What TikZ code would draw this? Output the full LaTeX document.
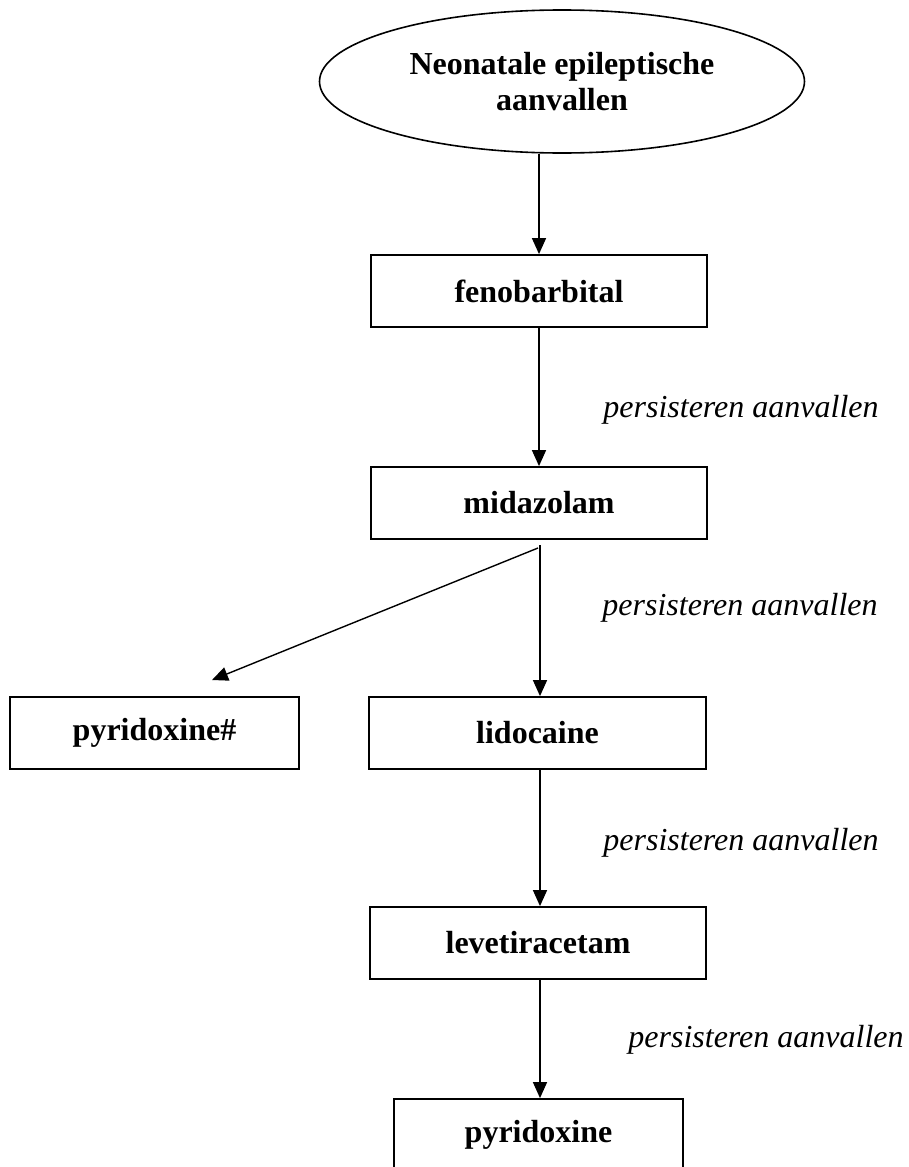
\documentclass[tikz,border=0pt]{standalone}
\usepackage{fontspec}
\setmainfont{Liberation Serif}
\usetikzlibrary{arrows.meta,shapes.geometric}
\tikzset{
  boxnode/.style={draw, line width=1.8pt, minimum height=72pt, inner sep=0pt,
    font=\fontsize{32}{37}\selectfont\bfseries},
  ellnode/.style={draw, ellipse, line width=1.6pt, minimum width=485pt, minimum height=143pt,
    inner sep=0pt, align=center, font=\fontsize{32}{36}\selectfont\bfseries},
  arr/.style={-{Triangle[length=16pt,width=14pt]}, line width=1.4pt},
  lbl/.style={font=\fontsize{32}{37}\selectfont\itshape, inner sep=0pt}
}
\begin{document}
\begin{tikzpicture}[x=1pt,y=-1pt]
\useasboundingbox (0,0) rectangle (909,1167);
\clip (0,0) rectangle (909,1167);
\node[ellnode] (ell) at (562,81.5) {Neonatale epileptische\\aanvallen};
\node[boxnode, minimum width=336pt] (feno) at (539,291) {fenobarbital};
\node[boxnode, minimum width=336pt] (mida) at (539,503) {midazolam};
\node[boxnode, minimum width=289pt] (pyrh) at (154.5,733) {pyridoxine\#};
\node[boxnode, minimum width=337pt] (lido) at (537.5,733) {lidocaine};
\node[boxnode, minimum width=336pt] (leve) at (538,943) {levetiracetam};
\node[boxnode, minimum width=289pt] (pyri) at (538.5,1135) {pyridoxine};

\coordinate (br) at (540,545);
\coordinate (brd) at (538,548);
\coordinate (tip) at (212,680);

\draw[arr] (ell.south -| feno.north) -- (feno.north);
\draw[arr] (feno.south) -- (mida.north);
\draw[arr] (br) -- (br |- lido.north);
\draw[arr] (brd) -- (tip);
\draw[arr] (lido.south -| br) -- (leve.north -| br);
\draw[arr] (leve.south -| br) -- (pyri.north -| br);

\node[lbl] (l1) at (741,410) {persisteren aanvallen};
\node[lbl] (l2) at (740,608) {persisteren aanvallen};
\node[lbl] (l3) at (741,843) {persisteren aanvallen};
\node[lbl] (l4) at (766,1040) {persisteren aanvallen};
\end{tikzpicture}
\end{document}
